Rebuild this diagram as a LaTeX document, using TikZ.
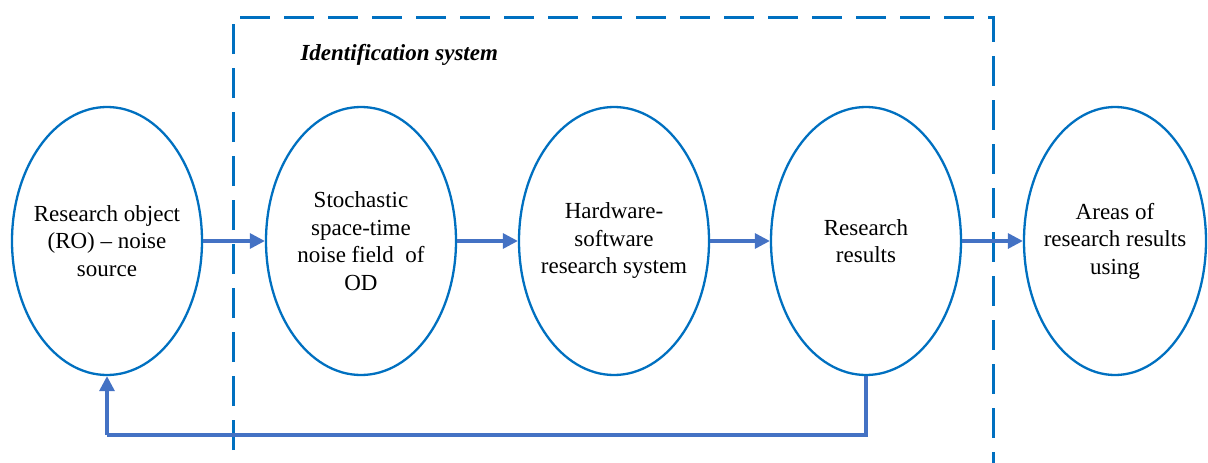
\documentclass[tikz,border=0pt]{standalone}
\usepackage{fontspec}
\setmainfont{Liberation Serif}
\usetikzlibrary{shapes.geometric,arrows.meta}
\definecolor{ellblue}{HTML}{0070C0}
\definecolor{arrblue}{HTML}{4472C4}
\tikzset{
  oval/.style={ellipse, draw=ellblue, line width=2.3pt, minimum width=190pt, minimum height=268pt, inner sep=0pt},
  txt/.style={align=center, inner sep=0pt, font=\fontsize{23}{27.5}\selectfont},
  flow/.style={draw=arrblue, line width=3.2pt, -{Triangle[length=15pt,width=15pt]}},
  fb/.style={draw=arrblue, line width=3.2pt},
  dbox/.style={draw=ellblue, line width=3pt, dash pattern=on 30pt off 14pt}
}
\begin{document}
\begin{tikzpicture}[x=1pt,y=-1pt]
\useasboundingbox (0,0) rectangle (1208,463);
\node[oval] (ro) at (107,241) {};
\node[oval] (sf) at (361,241) {};
\node[oval] (hw) at (614,241) {};
\node[oval] (rr) at (866,241) {};
\node[oval, minimum width=182pt] (ar) at (1115,241) {};
\node[txt] (rot) at (ro.center) {Research object\\(RO) -- noise\\source};
\node[txt] (sft) at (sf.center) {Stochastic\\space-time\\noise field\ \ of\\OD};
\node[txt] (hwt) at (hw.center) {Hardware-\\software\\research system};
\node[txt] (rrt) at (rr.center) {Research\\results};
\node[txt] (art) at (ar.center) {Areas of\\research results\\using};
\draw[dbox] (233,450) -- (233,17) -- (993,17) -- (993,463);
\node[font=\fontsize{23}{27}\selectfont\bfseries\itshape, anchor=west] (id) at (297,55) {Identification system};
\draw[flow] (ro.east) -- (sf.west);
\draw[flow] (sf.east) -- (hw.west);
\draw[flow] (hw.east) -- (rr.west);
\draw[flow] (rr.east) -- (ar.west);
\coordinate (c1) at (866,435);
\coordinate (c2) at (107,435);
\draw[fb] (rr.south) -- (c1) -- (c2);
\draw[flow] (c2) -- (ro.south);
\end{tikzpicture}
\end{document}
